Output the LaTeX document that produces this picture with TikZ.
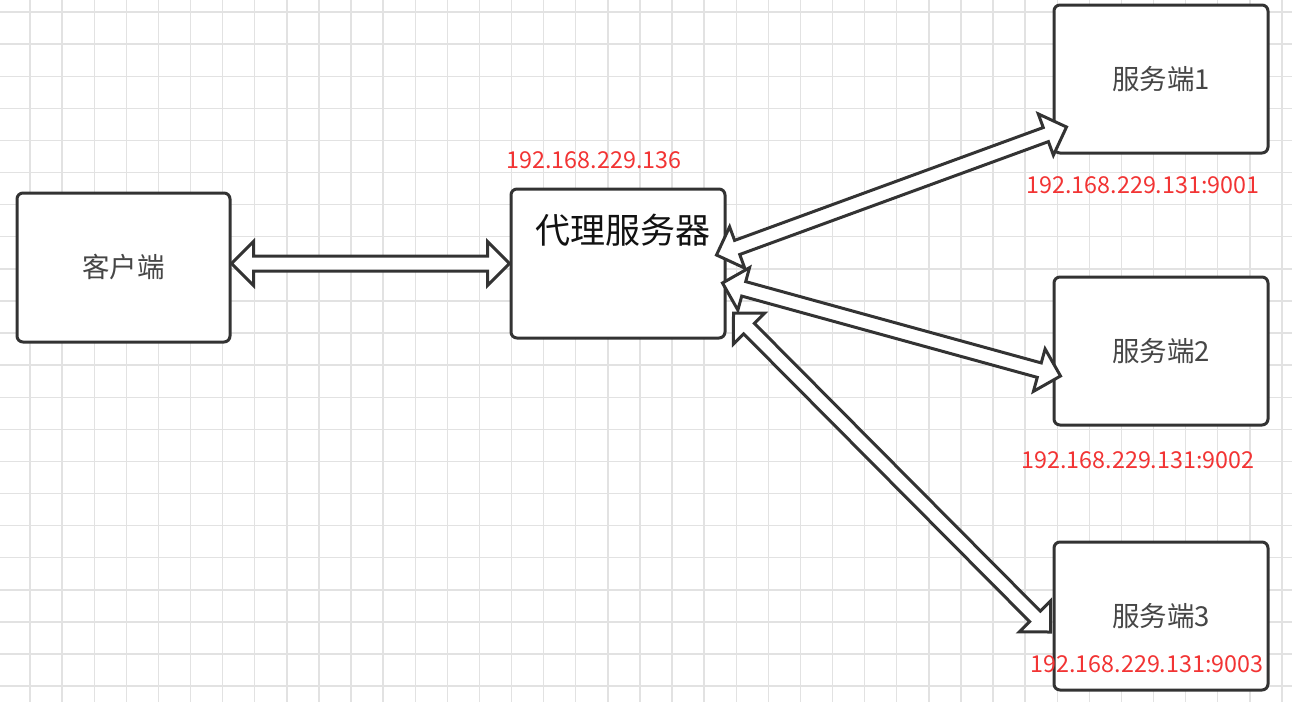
\documentclass[tikz,border=0pt]{standalone}
\usepackage{fontspec}
\usepackage{tikz}
\usetikzlibrary{calc,positioning}
\newfontfamily\cjk{Noto Sans CJK SC}
\definecolor{boxline}{RGB}{51,51,51}
\definecolor{boxtext}{RGB}{70,70,70}
\definecolor{ipred}{RGB}{242,52,52}
\definecolor{gridgray}{RGB}{226,226,226}
\newcommand{\headlen}{22pt}
\newcommand{\headwid}{22pt}
\newcommand{\shaftwid}{7.5pt}
\newcommand{\dualarrow}[2]{%
  \path (#1) coordinate (da) (#2) coordinate (db);
  \draw[fat] let \p1=($(db)-(da)$), \n1={veclen(\x1,\y1)}, \n2={atan2(\y1,\x1)} in
    (da) -- ($(da)+(\n2:\headlen)+(\n2+90:\headwid)$)
    -- ($(da)+(\n2:\headlen)+(\n2+90:\shaftwid)$)
    -- ($(da)+(\n2:\n1-\headlen)+(\n2+90:\shaftwid)$)
    -- ($(da)+(\n2:\n1-\headlen)+(\n2+90:\headwid)$)
    -- (db)
    -- ($(da)+(\n2:\n1-\headlen)+(\n2-90:\headwid)$)
    -- ($(da)+(\n2:\n1-\headlen)+(\n2-90:\shaftwid)$)
    -- ($(da)+(\n2:\headlen)+(\n2-90:\shaftwid)$)
    -- ($(da)+(\n2:\headlen)+(\n2-90:\headwid)$)
    -- cycle;}

\begin{document}
\begin{tikzpicture}[
  x=1pt, y=-1pt,
  gridline/.style={draw=gridgray, line width=1.4pt},
  box/.style={draw=boxline, line width=3pt, rounded corners=6pt, fill=white,
    minimum width=214pt, minimum height=149pt, inner sep=0pt,
    font=\cjk\fontsize{27.5}{32}\selectfont, text=boxtext},
  ip/.style={text=ipred, inner sep=0pt, font=\cjk\fontsize{23.3}{28}\selectfont},
  fat/.style={draw=boxline, line width=3pt, fill=white, line join=miter}
]
\useasboundingbox (0,0) rectangle (1292,702);
\fill[white] (0,0) rectangle (1292,702);
\foreach \i in {0,...,40}
  \draw[gridline] ({-2.1+32.1*\i},0) -- ++(0,702);
\foreach \j in {0,...,21}
  \draw[gridline] (0,{12+32.1*\j}) -- ++(1292,0);

\node[box, minimum width=213pt] (client) at (123.5,267.5) {客户端};
\node[box, label={[text=black!93, font=\cjk\fontsize{35}{40}\selectfont,
  xshift=4.5pt, yshift=33pt]center:代理服务器}] (proxy) at (618,263.5) {};
\node[box, minimum height=148pt] (server1) at (1161,79) {服务端1};
\node[box, minimum height=148pt] (server2) at (1161,351) {服务端2};
\node[box, minimum height=148pt] (server3) at (1161,616) {服务端3};

\node[ip] (proxyip) at (594,160) {192.168.229.136};
\node[ip] (ip1) at (1143,185) {192.168.229.131:9001};
\node[ip] (ip2) at (1138,460) {192.168.229.131:9002};
\node[ip] (ip3) at (1147,664) {192.168.229.131:9003};

\dualarrow{client.east |- proxy.west}{proxy.west}
\dualarrow{$(proxy.east)+(-10,-8.5)$}{$(server1.west)+(14,48)$}
\dualarrow{$(proxy.east)+(-4,19.5)$}{$(server2.west)+(8,25)$}
\dualarrow{$(proxy.east)+(7,49.5)$}{$(server3.west)+(-2,16)$}
\end{tikzpicture}
\end{document}
